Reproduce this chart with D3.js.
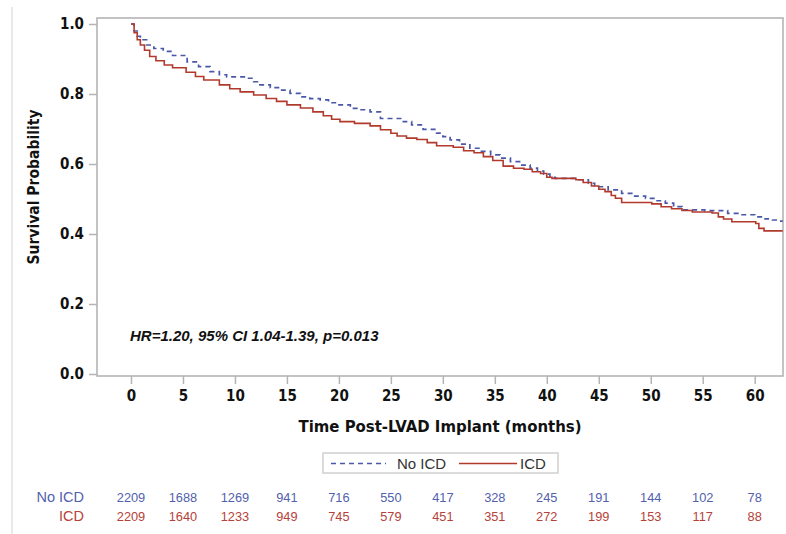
<!DOCTYPE html>
<html>
<head>
<meta charset="utf-8">
<script src="https://cdn.jsdelivr.net/npm/d3@7"></script>
<style>
  body { margin: 0; background: #fff; }
  .tick text { font-family: "DejaVu Sans Condensed", "DejaVu Sans", sans-serif; font-weight: bold; font-size: 15px; fill: #111; }
</style>
</head>
<body>
<div id="kmViz"></div>
<script>
// KAPLAN-MEIER: ICD vs NO ICD

// at-risk table
let months = [0, 5, 10, 15, 20, 25, 30, 35, 40, 45, 50, 55, 60];
let atRiskNoICD = [2209, 1688, 1269, 941, 716, 550, 417, 328, 245, 191, 144, 102, 78];
let atRiskICD = [2209, 1640, 1233, 949, 745, 579, 451, 351, 272, 199, 153, 117, 88];

// survival steps (months, probability)
let noIcdTime = [0, 0.3, 0.6, 0.9, 1.5, 2.2, 3.1, 4.0, 5.4, 6.5, 7.6, 8.5, 9.2, 11.1, 11.8, 12.4, 13.4, 14.3, 15.3, 16.3,
  17.2, 18.2, 19.0, 19.8, 21.1, 22.0, 23.0, 24.0, 26.2, 27.0, 28.1, 29.4, 30.0, 30.7, 31.6, 32.6, 33.6, 34.6, 35.5, 36.5,
  37.5, 38.4, 39.1, 39.7, 40.3, 40.8, 43.0, 44.0, 44.6, 45.9, 47.2, 48.3, 49.5, 50.5, 51.4, 52.2, 53.0, 55.2, 57.4, 58.5,
  60.0, 61.0, 61.7, 62.3, 62.7];
let noIcdSurv = [1.0, 0.98, 0.965, 0.955, 0.94, 0.93, 0.922, 0.91, 0.892, 0.878, 0.864, 0.855, 0.849, 0.845, 0.835, 0.826, 0.818, 0.811, 0.802, 0.792,
  0.787, 0.783, 0.775, 0.769, 0.759, 0.755, 0.749, 0.73, 0.721, 0.712, 0.699, 0.688, 0.678, 0.669, 0.657, 0.645, 0.636, 0.626, 0.617, 0.607,
  0.597, 0.588, 0.58, 0.571, 0.562, 0.559, 0.555, 0.545, 0.535, 0.526, 0.516, 0.508, 0.502, 0.495, 0.488, 0.478, 0.469, 0.467, 0.459, 0.455,
  0.449, 0.443, 0.44, 0.437, 0.437];

let icdTime = [0, 0.3, 0.6, 0.9, 1.3, 1.8, 2.4, 3.2, 4.0, 5.3, 6.2, 7.0, 8.5, 9.5, 10.5, 11.8, 13.0, 14.0, 15.0, 16.3,
  17.5, 18.5, 19.3, 20.1, 21.5, 23.0, 24.0, 25.0, 25.6, 26.5, 27.5, 28.5, 29.4, 31.0, 32.0, 33.0, 33.9, 34.8, 35.8, 36.8,
  37.8, 38.6, 39.4, 40.0, 40.5, 42.8, 43.5, 44.3, 45.0, 45.6, 46.2, 46.6, 47.2, 50.1, 51.0, 52.0, 53.0, 54.0, 55.9, 56.5,
  57.0, 57.8, 60.1, 60.4, 60.9, 62.7];
let icdSurv = [1.0, 0.975, 0.955, 0.94, 0.925, 0.907, 0.895, 0.883, 0.875, 0.862, 0.85, 0.84, 0.826, 0.815, 0.806, 0.797, 0.787, 0.779, 0.769, 0.76,
  0.749, 0.738, 0.728, 0.721, 0.716, 0.709, 0.698, 0.688, 0.68, 0.674, 0.67, 0.661, 0.652, 0.648, 0.638, 0.632, 0.621, 0.61, 0.594, 0.588,
  0.585, 0.578, 0.573, 0.562, 0.559, 0.555, 0.547, 0.537, 0.528, 0.521, 0.51, 0.502, 0.49, 0.486, 0.478, 0.472, 0.467, 0.463, 0.46, 0.449,
  0.443, 0.435, 0.43, 0.416, 0.409, 0.409];

let yTicks = [0, 0.2, 0.4, 0.6, 0.8, 1.0];

let blue = "#4a58a8",
  red = "#b23a2c";

function pairs(t, s) {
  return t.map(function(d, i) { return [d, s[i]]; });
}

let w = 786, h = 534;
// frame of the plot
let frame = {left: 97, right: 783, top: 18, bottom: 376};

let x = d3.scaleLinear().domain([0, 60]).range([131, 754.7]);
let y = d3.scaleLinear().domain([0, 1]).range([374, 24]);

let svg = d3.select("#kmViz").append("svg")
  .attr("width", w)
  .attr("height", h)
  .style("font-family", "'Liberation Sans', Arial, sans-serif");

// faint page edge on the left
svg.append("line")
  .attr("x1", 12).attr("x2", 12)
  .attr("y1", 7).attr("y2", h)
  .attr("stroke", "#e2e2e2")
  .attr("stroke-width", 1.5);

svg.append("rect")
  .attr("x", frame.left)
  .attr("y", frame.top)
  .attr("width", frame.right - frame.left)
  .attr("height", frame.bottom - frame.top)
  .attr("fill", "none")
  .attr("stroke", "#b4b4b4")
  .attr("stroke-width", 1.6);

// axes
let xAxis = svg.append("g")
  .attr("transform", "translate(0," + frame.bottom + ")")
  .call(d3.axisBottom(x).tickValues(months).tickSize(8).tickPadding(6).tickFormat(d3.format("d")));

let yAxis = svg.append("g")
  .attr("transform", "translate(" + frame.left + ",0)")
  .call(d3.axisLeft(y).tickValues(yTicks).tickSize(8).tickPadding(5).tickFormat(d3.format(".1f")));

[xAxis, yAxis].forEach(function(ax) {
  ax.select(".domain").remove();
  ax.selectAll(".tick line").attr("stroke", "#b4b4b4").attr("stroke-width", 1.5);
});

// axis titles
svg.append("text")
  .attr("x", 440)
  .attr("y", 432)
  .attr("text-anchor", "middle")
  .style("font-family", "'DejaVu Sans Condensed', 'DejaVu Sans', sans-serif")
  .style("font-weight", "bold")
  .style("font-size", "16.6px")
  .attr("fill", "#111")
  .text("Time Post-LVAD Implant (months)");

svg.append("text")
  .attr("transform", "translate(39,187)rotate(-90)")
  .attr("text-anchor", "middle")
  .style("font-family", "'DejaVu Sans Condensed', 'DejaVu Sans', sans-serif")
  .style("font-weight", "bold")
  .style("font-size", "15.5px")
  .attr("fill", "#111")
  .text("Survival Probability");

// curves
svg.append("clipPath").attr("id", "plotClip")
  .append("rect")
  .attr("x", frame.left).attr("y", frame.top)
  .attr("width", frame.right - frame.left)
  .attr("height", frame.bottom - frame.top);

let line = d3.line()
  .x(function(d) { return x(d[0]); })
  .y(function(d) { return y(d[1]); })
  .curve(d3.curveStepAfter);

svg.append("path")
  .datum(pairs(noIcdTime, noIcdSurv))
  .attr("clip-path", "url(#plotClip)")
  .attr("fill", "none")
  .attr("stroke", blue)
  .attr("stroke-width", 1.7)
  .attr("stroke-dasharray", "5,4")
  .attr("d", line);

svg.append("path")
  .datum(pairs(icdTime, icdSurv))
  .attr("clip-path", "url(#plotClip)")
  .attr("fill", "none")
  .attr("stroke", red)
  .attr("stroke-width", 1.6)
  .attr("d", line);

// hazard ratio note
svg.append("text")
  .attr("x", 130)
  .attr("y", 341)
  .style("font-weight", "bold")
  .style("font-style", "italic")
  .style("font-size", "15px")
  .attr("fill", "#111")
  .text("HR=1.20, 95% CI 1.04-1.39, p=0.013");

// legend
let legend = svg.append("g");
legend.append("rect")
  .attr("x", 323).attr("y", 453)
  .attr("width", 235).attr("height", 20)
  .attr("fill", "#fff")
  .attr("stroke", "#cfcfcf")
  .attr("stroke-width", 1.5);
legend.append("line")
  .attr("x1", 331).attr("x2", 386)
  .attr("y1", 463.5).attr("y2", 463.5)
  .attr("stroke", blue)
  .attr("stroke-width", 1.3)
  .attr("stroke-dasharray", "5,4");
legend.append("text")
  .attr("x", 397).attr("y", 469)
  .style("font-size", "15px")
  .attr("fill", "#333")
  .text("No ICD");
legend.append("line")
  .attr("x1", 459).attr("x2", 517)
  .attr("y1", 463.5).attr("y2", 463.5)
  .attr("stroke", red)
  .attr("stroke-width", 1.5);
legend.append("text")
  .attr("x", 520).attr("y", 469)
  .style("font-size", "15px")
  .attr("fill", "#333")
  .text("ICD");

// numbers at risk
let rows = [
  {label: "No ICD", values: atRiskNoICD, color: "#5261ad", yy: 502},
  {label: "ICD", values: atRiskICD, color: "#b5423a", yy: 521}
];

rows.forEach(function(r) {
  svg.append("text")
    .attr("x", 84).attr("y", r.yy)
    .attr("text-anchor", "end")
    .style("font-size", "14.5px")
    .attr("fill", r.color)
    .text(r.label);

  svg.selectAll(null)
    .data(r.values)
    .enter()
    .append("text")
    .attr("x", function(d, i) { return x(months[i]); })
    .attr("y", r.yy)
    .attr("text-anchor", "middle")
    .style("font-size", "12.8px")
    .attr("fill", r.color)
    .text(function(d) { return d; });
});
</script>
</body>
</html>
